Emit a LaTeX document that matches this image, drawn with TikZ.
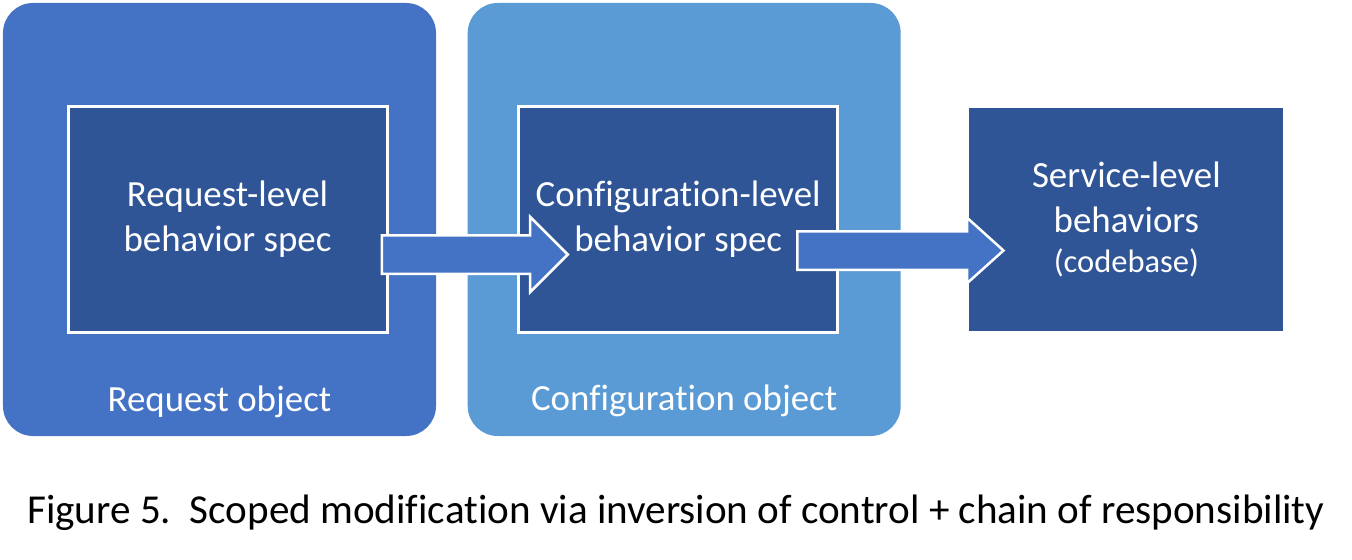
\documentclass[tikz,border=0pt]{standalone}
\usepackage{fontspec}
\setmainfont[Ligatures=NoCommon]{Carlito}
\usepackage{xcolor}
\usepackage{tikz}
\usetikzlibrary{positioning,shapes.arrows}
\definecolor{objblue}{HTML}{4472C4}
\definecolor{cfgblue}{HTML}{5B9BD5}
\definecolor{specblue}{HTML}{2F5597}
\tikzset{
  objbox/.style={rounded corners=0.6cm,minimum width=8.66cm,minimum height=8.66cm,inner sep=0pt},
  specbox/.style={draw=white,line width=0.06cm,fill=specblue,minimum width=6.38cm,minimum height=4.52cm,inner sep=0pt,align=center,text=white,font=\fontsize{21}{25.5}\selectfont},
  objlabel/.style={text=white,font=\fontsize{21}{24}\selectfont},
  flowarrow/.style={single arrow,draw=white,line width=0.05cm,fill=objblue,inner xsep=0pt,inner ysep=0.36cm,anchor=tail},
}
\begin{document}
\begin{tikzpicture}[node distance=0.62cm]
    \useasboundingbox (0,0) rectangle (27.04,-11.2);
    \node[objbox,fill=objblue] (reqobj) at (4.39,-4.39) {};
    \node[objbox,fill=cfgblue,right=of reqobj] (cfgobj) {};
    \node[fill=specblue,minimum width=6.28cm,minimum height=4.46cm,inner sep=0pt,align=center,text=white,font=\fontsize{21}{25.5}\selectfont,right=1.36cm of cfgobj] (svc) {Service-level\\behaviors\\[-3pt]{\fontsize{18.5}{20}\selectfont (codebase)}};
    \node[specbox] (reqspec) at ([xshift=0.16cm]reqobj.center) {Request-level\\behavior spec};
    \node[specbox] (cfgspec) at ([xshift=-0.12cm]cfgobj.center) {Configuration-level\\behavior spec};
    \node[objlabel] (reqlabel) at ([yshift=0.7cm]reqobj.south) {Request object};
    \node[objlabel] (cfglabel) at ([yshift=0.7cm]cfgobj.south) {Configuration object};
    % arrows between the specs
    \node[flowarrow,minimum height=3.72cm,single arrow head extend=0.37cm] (req2cfg) at ([xshift=-0.16cm,yshift=-0.7cm]reqspec.east) {};
    \node[flowarrow,minimum height=4.12cm,single arrow head extend=0.27cm,single arrow tip angle=84] (cfg2svc) at ([xshift=-0.86cm,yshift=-0.62cm]cfgspec.east) {};
    \node[font=\fontsize{23.4}{27}\selectfont] (caption) at (13.52,-10.26) {Figure 5.\ \ Scoped modification via inversion of control + chain of responsibility};
  \end{tikzpicture}
\end{document}
